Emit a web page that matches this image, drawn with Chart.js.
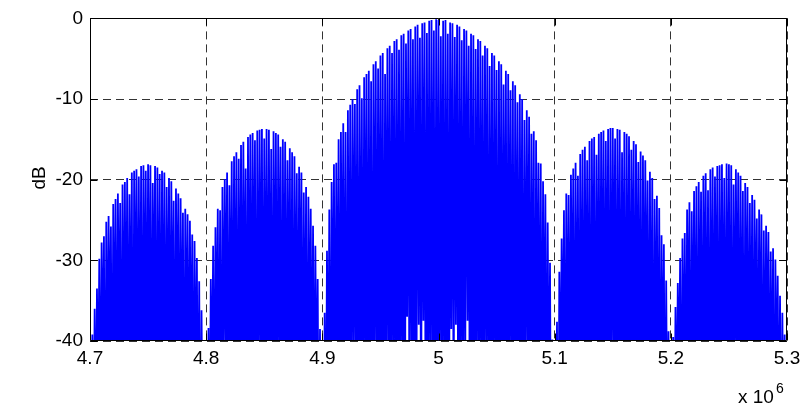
<!DOCTYPE html>
<html>
<head>
<meta charset="utf-8">
<script src="https://cdn.jsdelivr.net/npm/chart.js@4.4.0/dist/chart.umd.min.js"></script>
<style>
html, body { margin: 0; padding: 0; background: #fff; }
#chart { display: block; }
</style>
</head>
<body>
<canvas id="chart" width="808" height="409"></canvas>
<script>
// spectrum in dB, one sample per kHz
const freqStart = 4.7e6;
const freqStep = 1000;

// 4.700 - 4.799 MHz
const lobeA = [-56,-60,-39.2,-58,-36,-52,-33.5,-47,-29.8,-55,
  -27.8,-44,-27,-61,-25.2,-49,-24.5,-42,-25.8,-57,
  -23,-46,-22.4,-53,-21.7,-41,-22.9,-59,-20.6,-48,
  -20.3,-46,-19.8,-54,-21.8,-45,-19.1,-62,-18.9,-43,
  -18.7,-51,-19.6,-47,-18.3,-58,-18.2,-44,-18.9,-50,
  -18.1,-44,-18.2,-56,-20.4,-42,-18.3,-60,-18.5,-48,
  -19.3,-53,-18.9,-49,-19.1,-57,-20.9,-46,-19.8,-52,
  -20.2,-44,-22.6,-59,-21.1,-41,-21.7,-55,-22.3,-48,
  -24.1,-62,-23.6,-45,-24.3,-53,-25.1,-47,-26.8,-58,
  -27.6,-50,-29.7,-56,-32.6,-61,-36.2,-54,-41,-63];

// 4.800 - 4.899 MHz
const lobeB = [-58,-64,-38.4,-55,-32.3,-49,-28.2,-57,-25.9,-44,
  -23.6,-52,-23.8,-60,-20.9,-47,-19.9,-41,-19.1,-56,
  -20.7,-45,-17.7,-53,-17.1,-48,-16.6,-59,-17.4,-48,
  -15.7,-51,-15.3,-43,-18.6,-57,-14.7,-46,-14.4,-54,
  -14.2,-43,-15.1,-62,-13.9,-49,-13.8,-44,-13.7,-56,
  -14.9,-47,-13.7,-52,-13.8,-46,-16.2,-58,-14.0,-45,
  -14.2,-53,-14.4,-42,-15.9,-60,-15.0,-48,-15.3,-55,
  -17.6,-44,-16.1,-51,-16.6,-59,-17.1,-46,-19.2,-54,
  -18.4,-41,-19.1,-57,-21.6,-49,-20.9,-62,-22.1,-45,
  -23.6,-53,-25.7,-58,-28.2,-50,-32.3,-61,-38.5,-66];

// 4.900 - 5.099 MHz (main lobe)
const lobeC = [-60,-66,-36.5,-57,-28.8,-50,-23.7,-62,-20.3,-45,
  -18.1,-55,-17.9,-48,-15.0,-59,-14.1,-43,-13.0,-53,
  -14.1,-64,-11.4,-47,-10.7,-56,-10.0,-41,-10.6,-52,
  -8.8,-60,-8.3,-46,-9.9,-54,-7.3,-44,-6.9,-58,
  -6.5,-49,-7.8,-63,-5.7,-42,-5.3,-55,-6.2,-47,
  -4.6,-53,-4.3,-61,-6.9,-45,-3.7,-50,-3.4,-57,
  -4.3,-43,-2.8,-59,-2.6,-48,-3.9,-54,-2.1,-46,
  -1.9,-62,-3.1,-37,-1.5,-52,-1.3,-44,-2.6,-58,
  -1.0,-49,-0.8,-38,-2.4,-55,-0.6,-37.5,-0.5,-60,
  -1.8,-47,-0.3,-53,-0.2,-45,-1.5,-63,-0.1,-50,
  -0.2,-56,-2.2,-43,-0.3,-58,-0.2,-48,-1.9,-61,
  -0.5,-38.5,-0.6,-52,-2.3,-38,-0.8,-57,-1.0,-46,
  -2.7,-54,-1.3,-44,-1.5,-37.5,-3.4,-59,-1.9,-49,
  -2.1,-62,-3.8,-45,-2.6,-53,-2.8,-47,-4.6,-56,
  -3.4,-42,-3.7,-60,-5.9,-50,-4.3,-55,-4.6,-44,
  -6.4,-63,-5.3,-48,-5.7,-52,-8.2,-46,-6.5,-58,
  -6.9,-43,-8.9,-54,-7.8,-61,-8.3,-47,-10.4,-56,
  -9.4,-45,-10.0,-59,-12.6,-50,-11.4,-42,-12.2,-57,
  -14.3,-48,-14.0,-62,-15.1,-46,-17.9,-53,-18.0,-58,
  -20.2,-49,-21.8,-60,-25.3,-52,-30.3,-64,-39.8,-67];

// 5.100 - 5.199 MHz
const lobeD = [-62,-57,-37.6,-65,-31.4,-50,-27.3,-45,-23.8,-58,
  -21.7,-47,-21.9,-54,-19.4,-43,-18.6,-61,-17.9,-49,
  -19.5,-55,-16.8,-50,-16.3,-57,-15.9,-46,-17.6,-52,
  -15.2,-63,-14.9,-44,-14.7,-59,-16.9,-48,-14.3,-53,
  -14.1,-47,-13.9,-56,-15.2,-45,-13.7,-60,-13.6,-50,
  -13.6,-42,-14.9,-58,-13.7,-47,-13.8,-54,-16.6,-44,
  -14.1,-62,-14.3,-49,-14.6,-55,-16.3,-41,-15.2,-57,
  -15.6,-46,-17.8,-53,-16.5,-60,-17.0,-48,-17.6,-44,
  -20.1,-56,-19.0,-51,-19.8,-63,-22.4,-47,-22.0,-54,
  -23.5,-58,-26.9,-49,-28.0,-61,-32.5,-55,-38.8,-65];

// 5.200 - 5.300 MHz
const lobeE = [-57,-63,-39.5,-58,-35.8,-51,-32.8,-46,-29.7,-60,
  -27.3,-49,-26.6,-55,-23.7,-43,-22.8,-59,-23.9,-47,
  -21.4,-53,-20.8,-62,-20.3,-45,-21.5,-56,-19.5,-41,
  -19.2,-52,-21.3,-58,-18.7,-48,-18.5,-54,-19.6,-44,
  -18.3,-61,-18.2,-50,-18.1,-49,-19.8,-57,-18.0,-46,
  -18.1,-53,-18.2,-60,-20.6,-48,-18.7,-43,-19.1,-56,
  -19.5,-51,-21.4,-62,-20.4,-45,-20.9,-54,-22.9,-49,
  -21.9,-58,-22.5,-42,-24.8,-55,-23.7,-47,-24.3,-61,
  -26.3,-50,-25.7,-44,-26.5,-57,-28.9,-52,-28.5,-63,
  -29.9,-48,-31.9,-56,-34.4,-59,-36.5,-53,-39.2,-64,
  -58];

const xTickValues = [4.7e6, 4.8e6, 4.9e6, 5.0e6, 5.1e6, 5.2e6, 5.3e6];
const yTickValues = [-40, -30, -20, -10, 0];

const dbValues = [...lobeA, ...lobeB, ...lobeC, ...lobeD, ...lobeE];
const points = dbValues.map((v, i) => ({ x: freqStart + i * freqStep, y: v }));

const FONT = "'Liberation Sans', Arial, Helvetica, sans-serif";

// MATLAB style box, inward ticks and the extra labels
const framePlugin = {
    id: "frame",
    afterDraw(chart) {
        const { ctx, chartArea: a, scales } = chart;
        const L = Math.round(a.left) + 0.5;
        const R = Math.round(a.right) - 0.5;
        const T = Math.round(a.top) + 0.5;
        const B = Math.round(a.bottom) - 0.5;
        const tick = 7;
        ctx.save();
        ctx.strokeStyle = "#000";
        ctx.lineWidth = 1;
        ctx.beginPath();
        ctx.rect(L, T, R - L, B - T);
        xTickValues.forEach(v => {
            const px = Math.round(scales.x.getPixelForValue(v)) + 0.5;
            ctx.moveTo(px, B); ctx.lineTo(px, B - tick);
            ctx.moveTo(px, T); ctx.lineTo(px, T + tick);
        });
        yTickValues.forEach(v => {
            const py = Math.round(scales.y.getPixelForValue(v)) + 0.5;
            ctx.moveTo(L, py); ctx.lineTo(L + tick, py);
            ctx.moveTo(R, py); ctx.lineTo(R - tick, py);
        });
        ctx.stroke();

        ctx.fillStyle = "#000";
        ctx.textBaseline = "alphabetic";
        ctx.font = "19px " + FONT;
        ctx.textAlign = "left";
        ctx.fillText("x 10", 738, 403);
        ctx.font = "14px " + FONT;
        ctx.fillText("6", 776, 393);

        ctx.font = "19px " + FONT;
        ctx.translate(45, 178);
        ctx.rotate(-Math.PI / 2);
        ctx.textAlign = "center";
        ctx.fillText("dB", 0, 0);
        ctx.restore();
    }
};

const options = {
    type: "line",
    data: {
        datasets: [
            {
                data: points,
                borderColor: "#0000ff",
                borderWidth: 1.8,
                pointRadius: 0,
                tension: 0,
                fill: false,
                clip: 0
            }
        ]
    },
    options: {
        responsive: false,
        animation: false,
        devicePixelRatio: 1,
        layout: { padding: { left: 0, top: 15, right: 21, bottom: 0 } },
        plugins: {
            legend: { display: false },
            tooltip: { enabled: false }
        },
        scales: {
            x: {
                type: "linear",
                min: 4.7e6,
                max: 5.3e6,
                afterBuildTicks: scale => { scale.ticks = xTickValues.map(v => ({ value: v })); },
                afterFit: scale => { scale.height = 68; },
                ticks: {
                    autoSkip: false,
                    maxRotation: 0,
                    padding: 6,
                    color: "#000",
                    font: { family: FONT, size: 19 },
                    callback: v => String(Math.round(v / 1e5) / 10)
                },
                grid: { color: "#333", lineWidth: 1, drawTicks: false },
                border: { display: false, dash: [8, 5] }
            },
            y: {
                type: "linear",
                min: -40,
                max: 0,
                afterBuildTicks: scale => { scale.ticks = yTickValues.map(v => ({ value: v })); },
                afterFit: scale => { scale.width = 90; },
                ticks: {
                    autoSkip: false,
                    padding: 7,
                    color: "#000",
                    font: { family: FONT, size: 19 },
                    callback: v => String(v)
                },
                grid: { color: "#333", lineWidth: 1, drawTicks: false },
                border: { display: false, dash: [8, 5] }
            }
        }
    },
    plugins: [framePlugin]
};

// eslint-disable-next-line no-unused-vars
const chart = new Chart(document.getElementById("chart").getContext("2d"), options);
</script>
</body>
</html>
